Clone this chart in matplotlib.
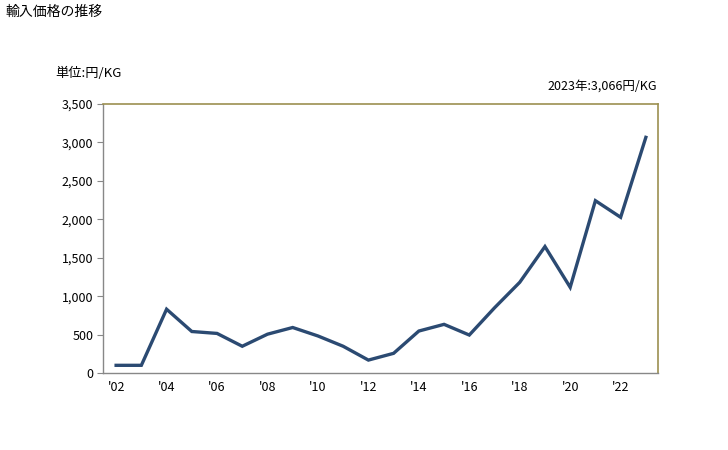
import numpy as np
import matplotlib
matplotlib.use("Agg")
import matplotlib.pyplot as plt

plt.rcParams['font.family'] = ['Noto Sans CJK JP', 'DejaVu Sans']

# ---- data ----
years  = list(range(2002, 2024))
prices = [100, 100, 830, 540, 515, 348, 505, 592, 482, 348, 168, 256,
          546, 633, 494, 848, 1180, 1645, 1115, 2242, 2026, 3066]
tick_years  = list(range(2002, 2023, 2))
tick_labels = [f"'{y % 100:02d}" for y in tick_years]
y_ticks = list(range(0, 3501, 500))

fig = plt.figure(figsize=(7.28, 4.5), dpi=100)
ax = fig.add_axes([0.1415, 0.1711, 0.7623, 0.5978])

ax.plot(years, prices, color="#2b4a72", linewidth=2.4, solid_joinstyle="miter")

ax.set_xlim(2001.48, 2023.48)
ax.set_ylim(0, 3500)
ax.set_xticks(tick_years)
ax.set_xticklabels(tick_labels, fontsize=9)
ax.set_yticks(y_ticks)
ax.set_yticklabels([f"{v:,}" for v in y_ticks], fontsize=9)
ax.tick_params(axis="x", length=0, pad=6)
ax.tick_params(axis="y", length=4, color="#888888", pad=3)

for side in ["top", "right"]:
    ax.spines[side].set_color("#9c9050")
    ax.spines[side].set_linewidth(1.2)
for side in ["left", "bottom"]:
    ax.spines[side].set_color("#888888")
    ax.spines[side].set_linewidth(1.0)

fig.text(5/728, 1 - 12/450, "輸入価格の推移", fontsize=10, va="center", ha="left")
fig.text(55/728, 1 - 73/450, "単位:円/KG", fontsize=9.5, va="center", ha="left")
fig.text(657/728, 1 - 86/450, "2023年:3,066円/KG", fontsize=9, va="center", ha="right")

fig.savefig("out.png", dpi=100)
